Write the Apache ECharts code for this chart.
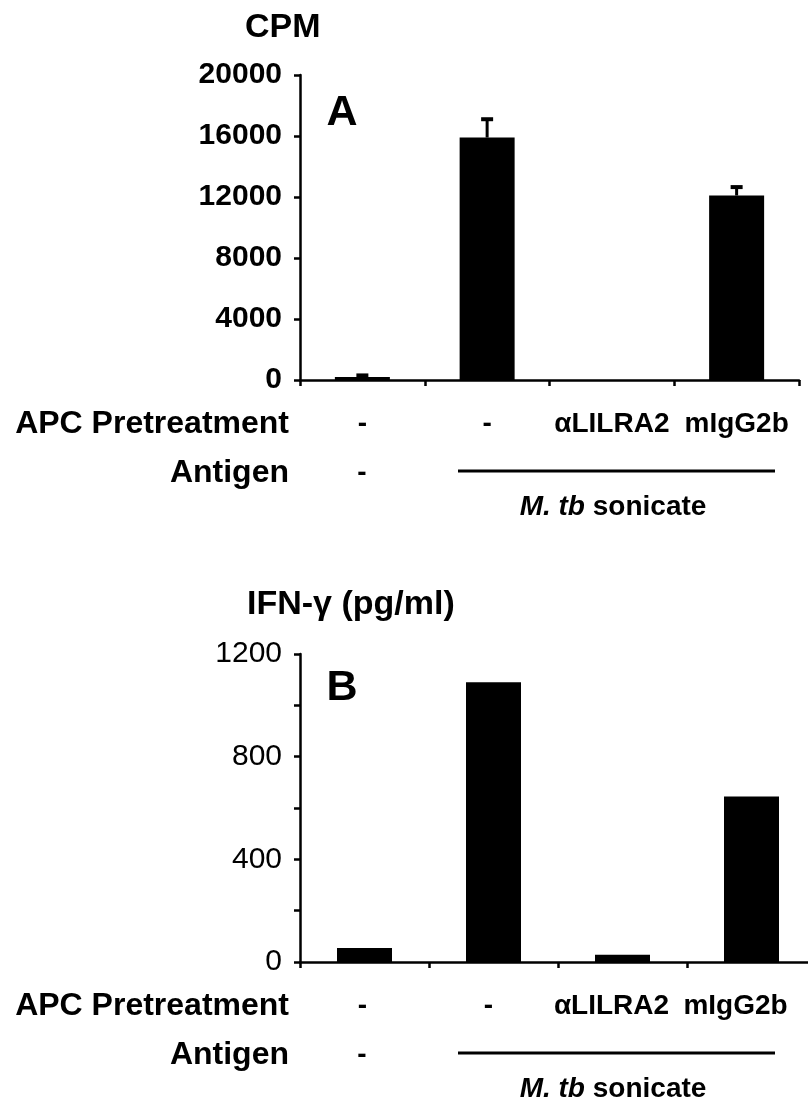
<!DOCTYPE html>
<html><head><meta charset="utf-8">
<script src="https://cdn.jsdelivr.net/npm/echarts@6/dist/echarts.min.js"></script>
<style>html,body{margin:0;padding:0;background:#fff}#c{width:808px;height:1105px}</style>
</head><body><div id="c"></div>
<script>
// ---- data ----
const categories = ['-', '-', '\u03b1LILRA2', 'mIgG2b'];
const cpmValues = [200, 15900, 0, 12100];
const cpmErrors = [100, 1200, 0, 550];
const ifnValues = [55, 1090, 28, 645];
const cpmAxis = { min: 0, max: 20000, interval: 4000 };
const ifnAxis = { min: 0, max: 1200, interval: 200, labelStep: 400 };
const antigenNone = '-';
const antigenLabel = 'M. tb';
const antigenRest = ' sonicate';

const FONT = '"Liberation Sans", Arial, Helvetica, sans-serif';
const chart = echarts.init(document.getElementById('c'), null, { renderer: 'canvas' });

function errItem(params, api) {
  const x = api.value(0), v = api.value(1), e = api.value(2);
  if (!e) return null;
  const p0 = api.coord([x, v]);
  const p1 = api.coord([x, v + e]);
  const hw = 6;
  return {
    type: 'group', children: [
      { type: 'line', shape: { x1: p0[0], y1: p0[1], x2: p1[0], y2: p1[1] }, style: { stroke: '#000', lineWidth: 3 } },
      { type: 'line', shape: { x1: p1[0] - hw, y1: p1[1], x2: p1[0] + hw, y2: p1[1] }, style: { stroke: '#000', lineWidth: 4 } }
    ]
  };
}

const axisLineStyle = { color: '#000', width: 2.5 };
// per-label horizontal nudge (right padding) so the bottom row lines up with the top row as in the figure
function xAxisFor(gridIndex, pads) {
  const rich = {};
  pads.forEach((p, i) => {
    rich['p' + i] = { fontFamily: FONT, fontWeight: 'bold', fontSize: 28, lineHeight: 28, color: '#000', padding: [0, p, 0, 0] };
  });
  return {
    type: 'category', gridIndex, data: categories,
    axisLine: { show: true, lineStyle: axisLineStyle },
    axisTick: { show: true, length: 6, lineStyle: axisLineStyle, alignWithLabel: false },
    axisLabel: { color: '#000', fontFamily: FONT, fontWeight: 'bold', fontSize: 28, lineHeight: 28, margin: 30, interval: 0,
      formatter: (v, i) => '{p' + i + '|' + v + '}', rich },
    splitLine: { show: false }
  };
}

const rowLabelFont = 'bold 32px ' + FONT;
function rowTexts(axisY) {
  return [
    { type: 'text', style: { text: 'APC Pretreatment', x: 289, y: axisY + 44, align: 'right', verticalAlign: 'middle', font: rowLabelFont, fill: '#000' } },
    { type: 'text', style: { text: 'Antigen', x: 289, y: axisY + 93, align: 'right', verticalAlign: 'middle', font: rowLabelFont, fill: '#000' } },
    { type: 'text', style: { text: antigenNone, x: 362, y: axisY + 93, align: 'center', verticalAlign: 'middle', font: 'bold 28px ' + FONT, fill: '#000' } },
    { type: 'line', shape: { x1: 458, y1: axisY + 91, x2: 775, y2: axisY + 91 }, style: { stroke: '#000', lineWidth: 3 } },
    { type: 'text', style: {
        text: '{i|' + antigenLabel + '}{n|' + antigenRest + '}', x: 613, y: axisY + 127, align: 'center', verticalAlign: 'middle',
        rich: {
          i: { fontStyle: 'italic', fontWeight: 'bold', fontSize: 28, fontFamily: FONT, fill: '#000' },
          n: { fontWeight: 'bold', fontSize: 28, fontFamily: FONT, fill: '#000' }
        }
      } }
  ];
}

const option = {
  backgroundColor: '#fff',
  animation: false,
  grid: [
    { left: 300, width: 499, top: 75, height: 305, outerBoundsMode: 'none', containLabel: false },
    { left: 300, width: 516, top: 654, height: 308, outerBoundsMode: 'none', containLabel: false }
  ],
  xAxis: [xAxisFor(0, [0, 0, 0, 0]), xAxisFor(1, [4, 10, 22, 32])],
  yAxis: [
    {
      type: 'value', gridIndex: 0, min: cpmAxis.min, max: cpmAxis.max, interval: cpmAxis.interval,
      axisLine: { show: true, lineStyle: axisLineStyle },
      axisTick: { show: true, length: 6, lineStyle: axisLineStyle },
      axisLabel: { color: '#000', fontFamily: FONT, fontWeight: 'bold', fontSize: 30, margin: 18,
        formatter: v => String(v) },
      splitLine: { show: false }
    },
    {
      type: 'value', gridIndex: 1, min: ifnAxis.min, max: ifnAxis.max, interval: ifnAxis.interval,
      axisLine: { show: true, lineStyle: axisLineStyle },
      axisTick: { show: true, length: 6, lineStyle: axisLineStyle },
      axisLabel: { color: '#000', fontFamily: FONT, fontWeight: 'normal', fontSize: 30, margin: 18,
        formatter: v => (v % ifnAxis.labelStep === 0 ? String(v) : '') },
      splitLine: { show: false }
    }
  ],
  series: [
    { type: 'bar', xAxisIndex: 0, yAxisIndex: 0, data: cpmValues, barWidth: 55, itemStyle: { color: '#000' }, silent: true },
    { type: 'custom', xAxisIndex: 0, yAxisIndex: 0, renderItem: errItem, z: 3,
      data: categories.map((c, i) => [i, cpmValues[i], cpmErrors[i]]) },
    { type: 'bar', xAxisIndex: 1, yAxisIndex: 1, data: ifnValues, barWidth: 55, itemStyle: { color: '#000' }, silent: true }
  ],
  graphic: [
    { type: 'text', style: { text: 'CPM', x: 245, y: 28, verticalAlign: 'middle', font: 'bold 34px ' + FONT, fill: '#000' } },
    { type: 'text', style: { text: 'A', x: 342, y: 113, align: 'center', verticalAlign: 'middle', font: 'bold 43px ' + FONT, fill: '#000' } },
    { type: 'text', style: { text: 'IFN-\u03b3 (pg/ml)', x: 247, y: 605, verticalAlign: 'middle', font: 'bold 34px ' + FONT, fill: '#000' } },
    { type: 'text', style: { text: 'B', x: 342, y: 688, align: 'center', verticalAlign: 'middle', font: 'bold 43px ' + FONT, fill: '#000' } }
  ].concat(rowTexts(380), rowTexts(962))
};
chart.setOption(option);
</script>
</body></html>
